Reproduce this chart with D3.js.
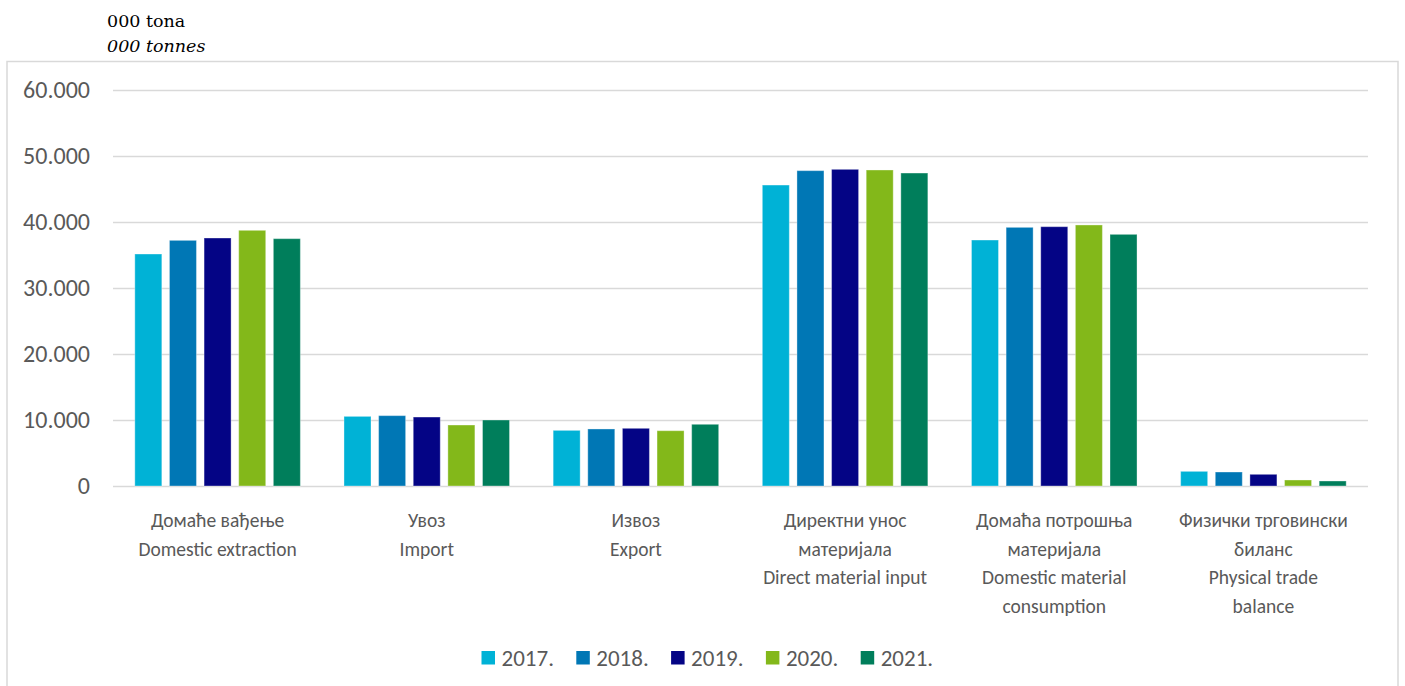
<!DOCTYPE html>
<html lang="sr">
    <head>
        <meta charset="utf-8">
        <title>Material flows 2017-2021</title>
        <script type="text/javascript" src="https://d3js.org/d3.v7.min.js"></script>
        <style type="text/css">
            body { margin: 0; background: #fff; }

            .frame {
                fill: none;
                stroke: #d9d9d9;
                stroke-width: 1.5;
            }

            .grid line {
                stroke: #d9d9d9;
                stroke-width: 1.5;
            }

            .axisText, .catText, .legendText {
                font-family: Carlito, Calibri, Lato, "Open Sans", sans-serif;
                fill: #595959;
            }
            .axisText { font-size: 24px; }
            .catText { font-size: 19.5px; }
            .legendText { font-size: 23px; }

            .unit {
                font-family: "DejaVu Serif", "Liberation Serif", serif;
                font-size: 17.5px;
                fill: #000;
            }
        </style>
    </head>
    <body>
        <script type="text/javascript">
            // Dimensiones
            var w = 1405;
            var h = 686;

            // Datos (000 toneladas)
            var categories = [
                ["Домаће вађење", "Domestic extraction"],
                ["Увоз", "Import"],
                ["Извоз", "Export"],
                ["Директни унос", "материјала", "Direct material input"],
                ["Домаћа потрошња", "материјала", "Domestic material", "consumption"],
                ["Физички трговински", "биланс", "Physical trade", "balance"]
            ];
            var years = ["2017.", "2018.", "2019.", "2020.", "2021."];
            var colors = ["#00b2d6", "#0077b5", "#040485", "#83b81a", "#007e5b"];

            var v2017 = [35150, 10550, 8430, 45600, 37270, 2220];
            var v2018 = [37220, 10660, 8640, 47780, 39190, 2120];
            var v2019 = [37575, 10450, 8740, 47980, 39290, 1770];
            var v2020 = [38740, 9240, 8380, 47880, 39550, 910];
            var v2021 = [37475, 10000, 9350, 47420, 38130, 760];
            var series = [v2017, v2018, v2019, v2020, v2021];

            var yTicks = [0, 10000, 20000, 30000, 40000, 50000, 60000];

            // Formato con punto de miles
            var fmt = function(d) {
                return d3.format(",")(d).replace(/,/g, ".");
            };

            var svg = d3.select("body")
                        .append("svg")
                        .attr("width", w)
                        .attr("height", h);

            // Marco del grafico
            svg.append("rect")
                .attr("class", "frame")
                .attr("x", 7)
                .attr("y", 61.5)
                .attr("width", 1391)
                .attr("height", 640);

            // Unidades
            svg.append("text")
                .attr("class", "unit")
                .attr("x", 107)
                .attr("y", 27)
                .text("000 tona");
            svg.append("text")
                .attr("class", "unit")
                .attr("x", 107)
                .attr("y", 52)
                .style("font-style", "italic")
                .text("000 tonnes");

            // Escalas
            var x0 = d3.scaleBand()
                        .domain(d3.range(categories.length))
                        .range([113, 1368]);
            var x1 = d3.scaleBand()
                        .domain(d3.range(years.length))
                        .range([0, x0.bandwidth()])
                        .paddingInner(0.22)
                        .paddingOuter(0.63);
            var yScale = d3.scaleLinear()
                        .domain([0, 60000])
                        .range([486, 90]);

            // Rejilla
            svg.append("g")
                .attr("class", "grid")
                .attr("transform", "translate(113,0)")
                .call(d3.axisLeft(yScale).tickValues(yTicks).tickSize(-1255).tickFormat(""))
                .call(function(g) { g.select(".domain").remove(); });

            // Etiquetas eje Y
            svg.append("g")
                .selectAll("text")
                .data(yTicks)
                .join("text")
                .attr("class", "axisText")
                .attr("x", 90)
                .attr("y", function(d) { return yScale(d) + 8; })
                .attr("text-anchor", "end")
                .text(fmt);

            // Barras
            var groups = svg.append("g")
                .selectAll("g")
                .data(series)
                .join("g")
                .attr("fill", function(d, i) { return colors[i]; });

            groups.selectAll("rect")
                .data(function(d, i) { return d.map(function(v, c) { return { v: v, c: c, s: i }; }); })
                .join("rect")
                .attr("x", function(d) { return x0(d.c) + x1(d.s); })
                .attr("y", function(d) { return yScale(d.v); })
                .attr("width", x1.bandwidth())
                .attr("height", function(d) { return yScale(0) - yScale(d.v); })
                .attr("stroke", "rgba(255,255,255,0.35)")
                .attr("stroke-width", 1);

            // Etiquetas de categorias
            svg.append("g")
                .selectAll("text")
                .data(categories)
                .join("text")
                .attr("class", "catText")
                .attr("text-anchor", "middle")
                .attr("y", 527)
                .each(function(lines, i) {
                    var t = d3.select(this);
                    lines.forEach(function(l, k) {
                        t.append("tspan")
                            .attr("x", x0(i) + x0.bandwidth() / 2)
                            .attr("dy", k === 0 ? 0 : 28.7)
                            .text(l);
                    });
                });

            // Leyenda
            var legend = svg.append("g")
                .selectAll("g")
                .data(years)
                .join("g")
                .attr("transform", function(d, i) { return "translate(" + (481.5 + i * 94.8) + ",651)"; });

            legend.append("rect")
                .attr("width", 13.5)
                .attr("height", 13.5)
                .attr("fill", function(d, i) { return colors[i]; });

            legend.append("text")
                .attr("class", "legendText")
                .attr("x", 20)
                .attr("y", 15)
                .text(function(d) { return d; });
        </script>
    </body>
</html>
